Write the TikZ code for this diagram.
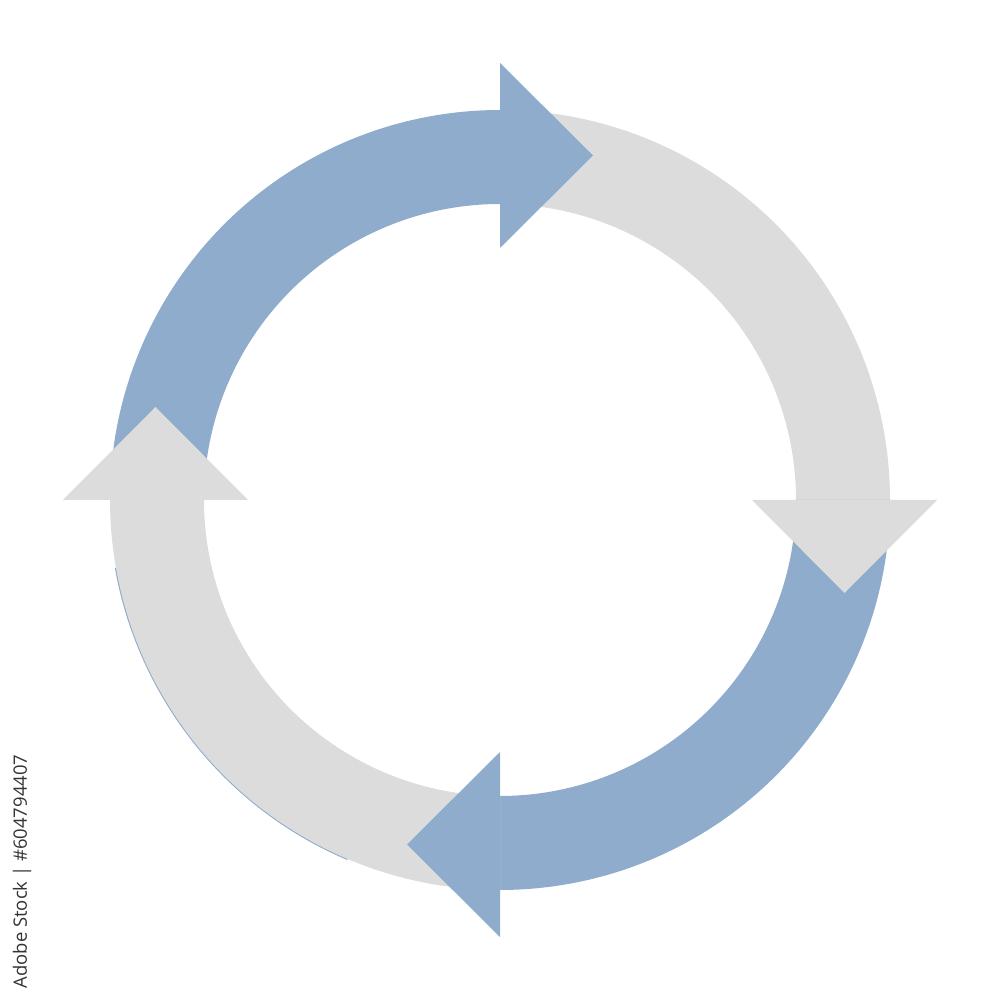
\documentclass[tikz,border=0pt]{standalone}
\usepackage{fontspec}
\newfontfamily\idfont{Open Sans}
\usepackage{tikz}
\definecolor{arrowblue}{HTML}{8FACCD}
\definecolor{arrowgray}{HTML}{DCDCDC}
\definecolor{idgray}{HTML}{333333}
\tikzstyle{StockId}=[rotate=90, inner sep=0pt, text=idgray, font=\idfont\fontsize{5.25}{6}\selectfont]
\newcommand{\Rin}{2.96}
\newcommand{\Rout}{3.90}

\begin{document}
\begin{tikzpicture}[scale=1]
    \useasboundingbox (-5,-5) rectangle (5,5);

    % thin blue edge under the lower left arc
    \draw[arrowblue, line width=0.6pt] (190:\Rout) arc[start angle=190, end angle=247, radius=\Rout];

    % ring bodies
    \foreach \a/\col in {90/arrowblue, 0/arrowgray, -90/arrowblue, 180/arrowgray}
        \fill[\col] (\a+90:\Rout) arc[start angle=\a+90, end angle=\a-0.5, radius=\Rout]
            -- (\a-0.5:\Rin) arc[start angle=\a-0.5, end angle=\a+90, radius=\Rin] -- cycle;

    % heads
    \foreach \a/\col in {90/arrowblue, 0/arrowgray, -90/arrowblue, 180/arrowgray}
        \fill[\col, rotate=\a-90] (0,2.52) -- (0,4.37) -- (0.93,3.445) -- cycle;

    \path (-4.78,-3.715) node[StockId] (stockid) {Adobe Stock | \#604794407};
\end{tikzpicture}
\end{document}
